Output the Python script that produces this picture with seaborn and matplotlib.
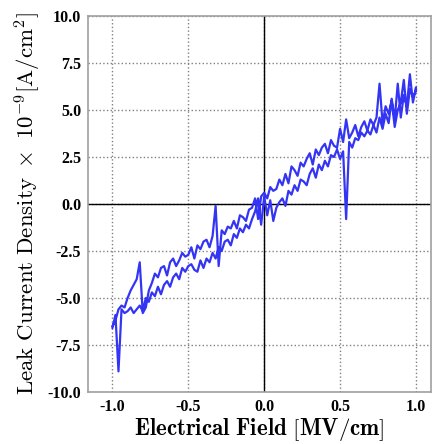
import numpy as np
import pandas as pd
import seaborn as sns
import matplotlib.pyplot as plt

# swept field, 0.02 MV/cm steps
field = np.linspace(-1.0, 1.0, 101)

# forward sweep (-1 -> 1)
forward = [-6.5, -6.2, -5.6, -5.4, -5.5, -5.0, -4.6, -4.3, -4.0, -3.1,
           -5.8, -5.5, -4.6, -4.2, -3.7, -3.9, -3.4, -3.3, -3.8, -3.1,
           -2.9, -3.3, -3.0, -2.6, -2.8, -2.7, -2.3, -2.9, -2.2, -2.4,
           -2.0, -1.9, -2.3, -1.7, -0.1, -3.3, -1.4, -1.6, -1.2, -1.3,
           -0.9, -1.3, -0.6, -0.7, -0.9, -0.3, -0.2, 0.3, -0.8, 0.4,
           0.6, 0.3, 0.9, 0.7, 0.8, 1.3, 1.0, 1.6, 1.1, 2.0,
           1.8, 1.5, 2.2, 2.0, 2.4, 2.7, 2.1, 2.9, 2.6, 3.0,
           3.2, 2.7, 3.4, 3.1, 3.0, 4.0, 3.3, 4.5, 3.5, 3.8,
           4.2, 3.6, 4.1, 4.4, 3.9, 4.5, 4.2, 4.6, 6.4, 4.3,
           5.2, 4.8, 5.5, 4.1, 5.0, 5.4, 6.6, 4.8, 6.1, 5.7,
           6.0]

# return sweep (1 -> -1), listed on the same ascending field grid
backward = [-6.6, -5.9, -8.9, -5.6, -5.8, -5.7, -5.5, -5.8, -5.6, -5.4,
            -5.7, -5.0, -5.2, -4.7, -4.9, -4.4, -4.8, -4.3, -4.1, -4.4,
            -3.9, -3.7, -4.0, -3.4, -3.6, -3.3, -3.2, -3.5, -3.6, -3.0,
            -3.4, -2.9, -3.1, -2.6, -2.9, -2.3, -2.5, -2.0, -1.9, -2.2,
            -1.6, -1.8, -1.3, -1.5, -1.1, -1.3, -0.8, -0.4, 0.3, -1.1,
            0.4, -0.6, 0.2, -0.9, -0.2, 0.1, 0.3, -0.1, 0.7, 0.5,
            1.0, 0.7, 1.3, 1.2, 1.0, 1.6, 1.9, 1.4, 2.1, 1.8,
            2.3, 2.0, 2.6, 2.5, 2.9, 2.4, 2.8, -0.8, 3.3, 3.0,
            3.5, 3.4, 3.8, 3.6, 3.9, 3.7, 4.2, 3.8, 4.6, 4.0,
            4.8, 4.3, 5.6, 4.5, 6.4, 4.6, 5.8, 5.2, 6.9, 5.4,
            6.2]

x_ticks = [-1.0, -0.5, 0.0, 0.5, 1.0]
y_ticks = [-10.0, -7.5, -5.0, -2.5, 0.0, 2.5, 5.0, 7.5, 10.0]

loop = pd.DataFrame({
    'E': np.concatenate([field, field[::-1]]),
    'J': np.concatenate([forward, backward[::-1]]),
})

sns.set_theme(style='whitegrid')
plt.rcParams['mathtext.fontset'] = 'cm'

fig = plt.figure(figsize=(4.32, 4.44), dpi=100)
ax = fig.add_axes([0.204, 0.117, 0.794, 0.847])

sns.lineplot(data=loop, x='E', y='J', sort=False, estimator=None,
             color='#3434f4', linewidth=1.6, ax=ax)

ax.axhline(0, color='black', linewidth=1.0, zorder=1)
ax.axvline(0, color='black', linewidth=1.0, zorder=1)

ax.set_xlim(-1.16, 1.1)
ax.set_ylim(-10, 10)
ax.set_xticks(x_ticks)
ax.set_yticks(y_ticks)
ax.set_xticklabels(['%.1f' % t for t in x_ticks])
ax.set_yticklabels(['%.1f' % t for t in y_ticks])
for lab in ax.get_xticklabels() + ax.get_yticklabels():
    lab.set_family('Liberation Serif')
    lab.set_fontweight('bold')
    lab.set_fontsize(11.5)
    lab.set_color('black')
ax.tick_params(axis='both', length=0, pad=5)

ax.grid(True, linestyle=':', color='#808080', linewidth=1.0)
ax.set_facecolor('white')
for sp in ax.spines.values():
    sp.set_color('#a0a0a0')
    sp.set_linewidth(1.2)

ax.set_xlabel(r'$\mathbf{Electrical\ Field\ [MV/cm]}$', fontsize=16.5,
              color='black', labelpad=1)
ax.set_ylabel(r'$\mathrm{Leak\ Current\ Density\ \times\ 10^{-9} [A/cm^2]}$',
              fontsize=16.5, color='black', labelpad=3)

fig.savefig('out.png', dpi=100)
